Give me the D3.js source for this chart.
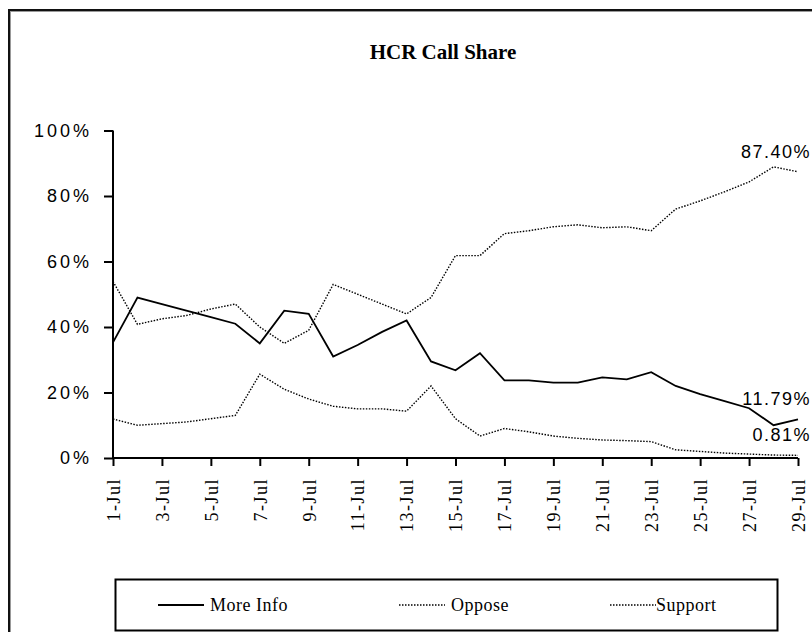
<!DOCTYPE html>
<html>
<head>
<meta charset="utf-8">
<script src="https://cdn.jsdelivr.net/npm/d3@7"></script>
<style>
  body { margin: 0; background: #fff; }
  svg { display: block; }
</style>
</head>
<body>
<script>
// days of July shown on the x axis
var days = d3.range(1, 30)
var dayLabels = days.map(function(d){ return d + '-Jul' })
var tickDays = [1, 3, 5, 7, 9, 11, 13, 15, 17, 19, 21, 23, 25, 27, 29]
var yTicks = [0, 20, 40, 60, 80, 100]

// call share (%) per day
var moreInfo = [35.3, 49, 47, 45, 43, 41, 35, 45, 44, 31, 34.5, 38.5, 42, 29.5, 26.8,
                32, 23.7, 23.7, 23, 23, 24.6, 24, 26.2, 22, 19.5, 17.4, 15.2, 10, 11.79]
var oppose   = [11.9, 10, 10.5, 11, 12, 13, 25.6, 21, 18, 15.8, 15, 15, 14.3, 22, 12,
                6.7, 9, 8, 6.7, 6, 5.5, 5.3, 5, 2.5, 2, 1.5, 1.2, 0.9, 0.81]
var support  = [53.9, 40.8, 42.5, 43.5, 45.5, 47, 40, 35, 39, 53, 50, 47, 44, 49, 61.8,
                61.8, 68.5, 69.4, 70.6, 71.2, 70.3, 70.6, 69.4, 76, 78.5, 81.3, 84.3, 88.9, 87.4]

var seriesNames = ['More Info', 'Oppose', 'Support']
var endLabels = ['11.79%', '0.81%', '87.40%']

var w = 812
var h = 632

var svg = d3.select('body')
  .append('svg')
  .attr('width', w)
  .attr('height', h)

// outer chart frame (runs off the right and bottom edge)
svg.append('rect')
  .attr('x', 9).attr('y', 10)
  .attr('width', 830).attr('height', 640)
  .attr('fill', 'none')
  .attr('stroke', '#111')
  .attr('stroke-width', 2)
svg.append('rect')
  .attr('x', 10.5).attr('y', 11.5)
  .attr('width', 830).attr('height', 640)
  .attr('fill', 'none')
  .attr('stroke', '#999')
  .attr('stroke-width', 1)

svg.append('text')
  .attr('x', 443)
  .attr('y', 59)
  .attr('text-anchor', 'middle')
  .attr('font-family', 'Liberation Serif, serif')
  .attr('font-weight', 'bold')
  .attr('font-size', '21px')
  .text('HCR Call Share')

var x = d3.scaleLinear().domain([1, 29]).range([113, 798])
var y = d3.scaleLinear().domain([0, 100]).range([458, 130.5])

// y axis
var yAxis = svg.append('g')
  .attr('transform', 'translate(113,0)')
  .call(d3.axisLeft(y).tickValues(yTicks).tickSize(9).tickPadding(12)
    .tickFormat(function(d){ return d + '%' }))
yAxis.select('.domain').attr('stroke-width', 2).attr('d', 'M0,' + y(0) + 'V' + y(100))
yAxis.selectAll('.tick line').attr('stroke-width', 2)
yAxis.selectAll('text')
  .attr('font-family', 'Liberation Sans, Arial, sans-serif')
  .attr('font-size', '18px')
  .attr('letter-spacing', '3px')
  .attr('fill', '#000')

// x axis
var xAxis = svg.append('g')
  .attr('transform', 'translate(0,' + y(0) + ')')
  .call(d3.axisBottom(x).tickValues(tickDays).tickSize(8)
    .tickFormat(function(d){ return dayLabels[d - 1] }))
xAxis.select('.domain').attr('stroke-width', 2).attr('d', 'M' + x(1) + ',0H' + x(29))
xAxis.selectAll('.tick line').attr('stroke-width', 2)
xAxis.selectAll('text')
  .attr('font-family', 'Liberation Serif, serif')
  .attr('font-size', '18px')
  .attr('letter-spacing', '1.5px')
  .attr('fill', '#000')
  .attr('text-anchor', 'end')
  .attr('dy', '0.35em')
  .attr('transform', 'translate(0,20) rotate(-90)')
  .attr('x', 0)
  .attr('y', 0)

var line = d3.line()
  .x(function(d, i){ return x(days[i]) })
  .y(function(d){ return y(d) })

var allSeries = [moreInfo, oppose, support]
var dash = [null, '1.5,1.5', '1.5,1.5']
var widths = [1.8, 1.4, 1.4]

svg.selectAll('path.series')
  .data(allSeries)
  .enter()
  .append('path')
  .attr('class', 'series')
  .attr('d', line)
  .attr('fill', 'none')
  .attr('stroke', '#000')
  .attr('stroke-width', function(d, i){ return widths[i] })
  .attr('stroke-dasharray', function(d, i){ return dash[i] })

// value labels at the last day
svg.selectAll('text.endlabel')
  .data(allSeries)
  .enter()
  .append('text')
  .attr('class', 'endlabel')
  .attr('x', 811)
  .attr('y', function(d){ return y(d[d.length - 1]) - 14 })
  .attr('text-anchor', 'end')
  .attr('font-family', 'Liberation Sans, Arial, sans-serif')
  .attr('font-size', '18px')
  .attr('letter-spacing', '1.5px')
  .text(function(d, i){ return endLabels[i] })

// legend
svg.append('rect')
  .attr('x', 115.5).attr('y', 579.5)
  .attr('width', 662).attr('height', 51)
  .attr('fill', 'none')
  .attr('stroke', '#000')
  .attr('stroke-width', 2)

var legendX = [158, 399, 610]
var legend = svg.selectAll('g.legend')
  .data(seriesNames)
  .enter()
  .append('g')
  .attr('class', 'legend')
  .attr('transform', function(d, i){ return 'translate(' + legendX[i] + ',605)' })
legend.append('line')
  .attr('x1', 0).attr('x2', 46)
  .attr('stroke', '#000')
  .attr('stroke-width', function(d, i){ return widths[i] })
  .attr('stroke-dasharray', function(d, i){ return dash[i] })
legend.append('text')
  .attr('x', function(d, i){ return i == 2 ? 46 : 52 })
  .attr('dy', '0.35em')
  .attr('font-family', 'Liberation Serif, serif')
  .attr('font-size', '18px')
  .attr('letter-spacing', '0.5px')
  .text(function(d){ return d })
</script>
</body>
</html>
